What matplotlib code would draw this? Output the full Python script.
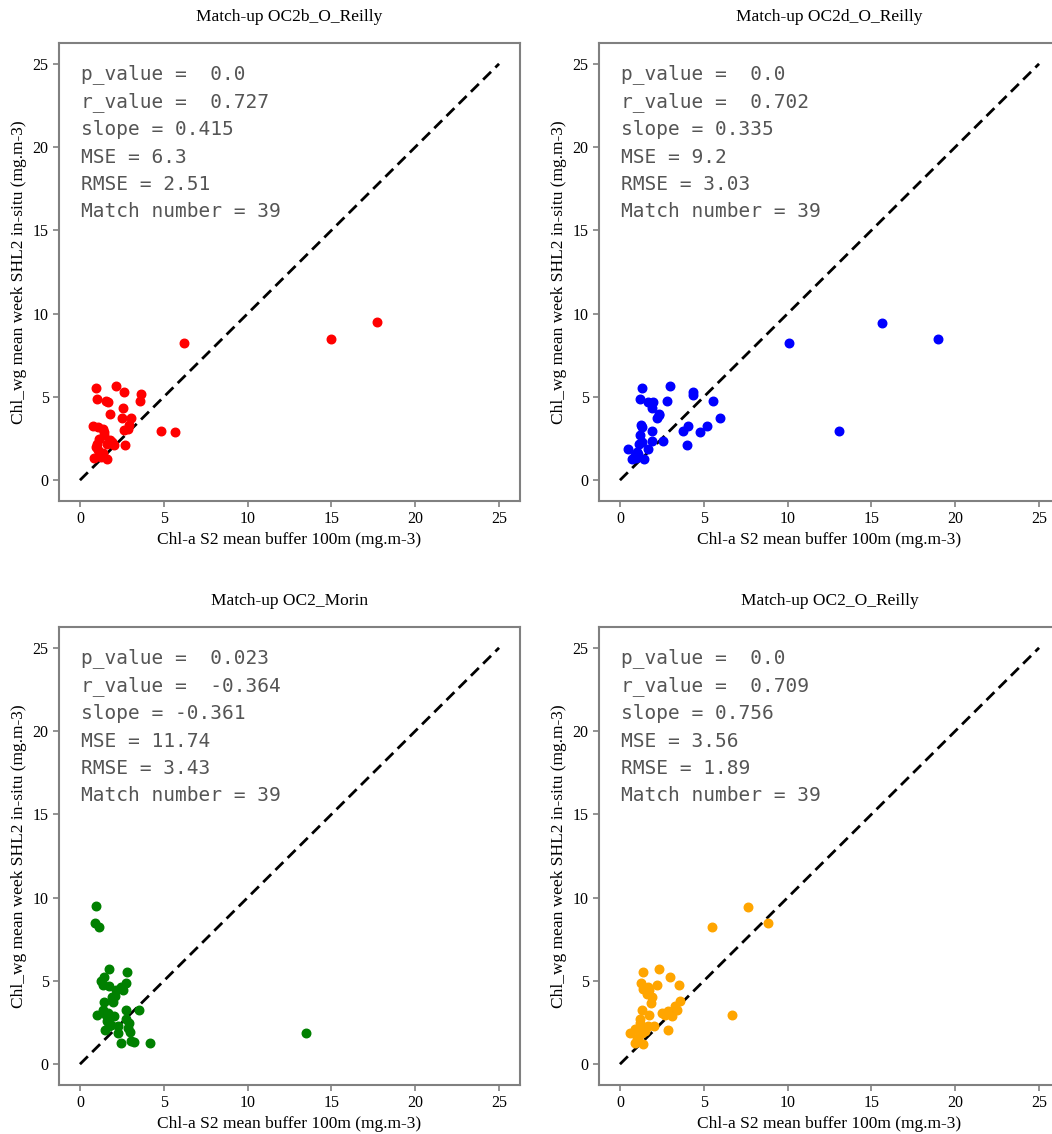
import numpy as np
import matplotlib
matplotlib.use('Agg')
import matplotlib.pyplot as plt

plt.rcParams['font.family'] = ['Liberation Serif', 'DejaVu Serif']

# Per-algorithm match-ups: satellite value (x) vs in-situ weekly mean (y)
oc2b_x = [6.2, 15.0, 17.7, 0.95, 2.18, 2.64, 3.63, 3.59, 0.99, 1.55, 1.69, 2.58,
          1.79, 2.48, 3.04, 0.75, 1.05, 1.35, 2.94, 2.64, 4.86, 5.67, 1.45, 1.94,
          0.99, 2.7, 1.61, 1.05, 1.35, 0.85, 1.59, 1.25, 1.82, 1.15, 2.06, 0.95,
          1.41, 2.84, 1.2]
oc2b_y = [8.25, 8.5, 9.5, 5.52, 5.67, 5.28, 5.18, 4.78, 4.88, 4.78, 4.68, 4.35,
          3.99, 3.75, 3.75, 3.25, 3.19, 3.06, 3.29, 3.0, 2.96, 2.9, 2.7, 2.3,
          2.16, 2.1, 2.16, 1.8, 1.61, 1.31, 1.25, 1.41, 2.4, 2.5, 2.1, 2.0,
          2.9, 3.1, 1.5]

oc2d_x = [15.63, 18.95, 10.1, 13.04, 1.33, 3.0, 4.33, 4.38, 5.54, 5.95, 1.21, 1.65,
          1.98, 1.94, 2.8, 2.34, 2.2, 1.25, 1.21, 1.94, 3.79, 4.07, 4.76, 5.18,
          1.9, 2.58, 4.0, 1.11, 0.46, 1.65, 1.01, 0.71, 1.45, 0.94, 0.88, 1.33,
          2.3, 1.3, 1.05]
oc2d_y = [9.44, 8.49, 8.25, 2.96, 5.54, 5.67, 5.28, 5.14, 4.76, 3.73, 4.88, 4.68,
          4.72, 4.35, 4.76, 3.99, 3.73, 3.29, 2.74, 2.96, 2.96, 3.23, 2.9, 3.25,
          2.34, 2.34, 2.1, 2.16, 1.86, 1.86, 1.71, 1.25, 1.25, 1.35, 1.51, 2.3,
          3.9, 3.2, 1.6]

morin_x = [0.95, 0.92, 1.11, 13.51, 1.75, 2.8, 1.45, 1.35, 1.75, 2.74, 2.44, 2.15,
           1.89, 1.45, 1.98, 1.35, 0.99, 1.58, 2.04, 2.74, 3.53, 2.74, 1.85, 2.24,
           1.49, 2.84, 2.28, 3.0, 2.44, 3.04, 3.23, 4.19, 1.75, 1.25, 2.54, 1.65,
           2.1, 1.6, 2.9]
morin_y = [9.48, 8.47, 8.23, 1.89, 5.69, 5.56, 5.26, 4.76, 4.7, 4.9, 4.62, 4.46,
           4.03, 3.75, 3.75, 3.23, 2.98, 2.98, 2.92, 3.23, 3.27, 2.72, 2.34, 2.28,
           2.04, 2.18, 1.89, 1.93, 1.25, 1.39, 1.33, 1.25, 2.28, 5.0, 4.46, 3.08,
           4.1, 2.6, 2.5]

oc2_x = [7.66, 8.83, 5.52, 6.69, 1.35, 2.3, 2.98, 3.53, 1.25, 1.65, 2.2, 1.75,
         1.94, 1.85, 3.57, 3.39, 1.29, 2.84, 1.75, 2.7, 3.13, 1.21, 1.25, 2.04,
         1.65, 0.61, 1.29, 2.84, 0.91, 1.35, 1.09, 1.49, 1.39, 0.9, 2.5, 1.6,
         1.2, 3.3, 1.0]
oc2_y = [9.42, 8.47, 8.21, 2.94, 5.56, 5.69, 5.26, 4.76, 4.9, 4.66, 4.76, 4.46,
         4.03, 3.67, 3.77, 3.27, 3.23, 3.21, 2.94, 2.94, 2.88, 2.72, 2.28, 2.32,
         2.28, 1.85, 1.85, 2.04, 1.29, 1.19, 1.49, 1.99, 4.5, 2.1, 3.05, 4.2,
         2.5, 3.5, 1.6]

titles = ['Match-up OC2b_O_Reilly', 'Match-up OC2d_O_Reilly',
          'Match-up OC2_Morin', 'Match-up OC2_O_Reilly']
colors = ['red', 'blue', 'green', 'orange']
stats = [
    ['p_value =  0.0', 'r_value =  0.727', 'slope = 0.415',
     'MSE = 6.3', 'RMSE = 2.51', 'Match number = 39'],
    ['p_value =  0.0', 'r_value =  0.702', 'slope = 0.335',
     'MSE = 9.2', 'RMSE = 3.03', 'Match number = 39'],
    ['p_value =  0.023', 'r_value =  -0.364', 'slope = -0.361',
     'MSE = 11.74', 'RMSE = 3.43', 'Match number = 39'],
    ['p_value =  0.0', 'r_value =  0.709', 'slope = 0.756',
     'MSE = 3.56', 'RMSE = 1.89', 'Match number = 39'],
]
xs = [oc2b_x, oc2d_x, morin_x, oc2_x]
ys = [oc2b_y, oc2d_y, morin_y, oc2_y]
one_to_one = [0, 25]
ticks = [0, 5, 10, 15, 20, 25]

W, H = 1052, 1134
fig = plt.figure(figsize=(W / 100, H / 100), dpi=100)

# axes boxes in pixels: left, top, width, height
boxes = [(59, 43, 461, 458), (599, 43, 461, 458),
         (59, 627, 461, 458), (599, 627, 461, 458)]

for i in range(4):
    l, t, w, h = boxes[i]
    ax = fig.add_axes([l / W, 1 - (t + h) / H, w / W, h / H])
    ax.plot(one_to_one, one_to_one, color='black', linestyle='--', lw=2, dashes=(4, 2.2))
    ax.scatter(xs[i], ys[i], color=colors[i], s=38, zorder=3)
    ax.set_xticks(ticks)
    ax.set_yticks(ticks)
    ax.tick_params(labelsize=11.5, color='#808080', length=4, width=1.2)
    for sp in ax.spines.values():
        sp.set_color('#808080')
        sp.set_linewidth(1.5)
    ax.set_title(titles[i], fontsize=12.5, pad=16)
    ax.set_xlabel('Chl-a S2 mean buffer 100m (mg.m-3)', fontsize=12.5, labelpad=3)
    ax.set_ylabel('Chl_wg mean week SHL2 in-situ (mg.m-3)', fontsize=12.5, labelpad=4)
    ax.text(0.048, 0.955, '\n'.join(stats[i]), transform=ax.transAxes,
            va='top', ha='left', family='DejaVu Sans Mono', fontsize=14,
            color='#555555', linespacing=1.56)

fig.savefig('out.png', dpi=100)
